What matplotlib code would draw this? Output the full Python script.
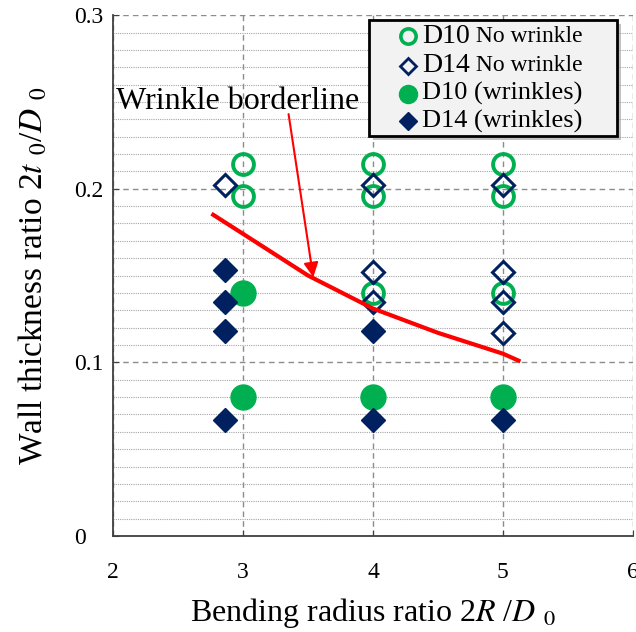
import matplotlib
matplotlib.use("Agg")
import matplotlib.pyplot as plt
from matplotlib.lines import Line2D
from matplotlib.patches import Rectangle
from matplotlib.offsetbox import AnchoredOffsetbox, VPacker, HPacker, TextArea, DrawingArea
import numpy as np

plt.rcParams['font.family'] = ['Liberation Serif', 'DejaVu Serif']
plt.rcParams['mathtext.fontset'] = 'stix'

GREEN = '#00b050'
NAVY = '#002060'

# D10 no wrinkle (open circles)
d10_ok_x = [3, 3, 4, 4, 4, 5, 5, 5]
d10_ok_y = [0.214, 0.196, 0.214, 0.196, 0.140, 0.214, 0.196, 0.140]
# D14 no wrinkle (open diamonds)
d14_ok_x = [2.86, 4, 4, 4, 5, 5, 5, 5]
d14_ok_y = [0.202, 0.202, 0.152, 0.135, 0.202, 0.152, 0.135, 0.117]
# D10 wrinkles (filled circles)
d10_wr_x = [3, 3, 4, 5]
d10_wr_y = [0.140, 0.080, 0.080, 0.080]
# D14 wrinkles (filled diamonds)
d14_wr_x = [2.86, 2.86, 2.86, 2.86, 4, 4, 5]
d14_wr_y = [0.153, 0.135, 0.118, 0.067, 0.118, 0.067, 0.067]

# borderline
border_x = [2.77, 3.0, 3.5, 4.0, 4.5, 5.0, 5.12]
border_y = [0.185, 0.174, 0.150, 0.131, 0.117, 0.105, 0.101]

fig = plt.figure(figsize=(6.36, 6.32), dpi=100)
ax = fig.add_axes([0.178, 0.152, 0.817, 0.824])

ax.set_xlim(2, 6)
ax.set_ylim(0, 0.3)
ax.set_xticks([2, 3, 4, 5, 6])
ax.set_yticks([0, 0.1, 0.2, 0.3])
ax.set_yticklabels(['0', '0.1', '0.2', '0.3'])
ax.set_yticks(np.arange(0.01, 0.3, 0.01), minor=True)
ax.tick_params(axis='both', which='major', direction='in', length=4,
               labelsize=17, colors='#404040', labelcolor='black')
ax.tick_params(axis='x', which='major', pad=19)
ax.tick_params(axis='y', which='major', pad=28)
for lab in ax.get_yticklabels():
    lab.set_horizontalalignment('left')
ax.tick_params(axis='y', which='minor', length=0)

ax.grid(True, which='major', linestyle=(0, (4, 3)), color='#8c8c8c', lw=1.0)
ax.grid(True, which='minor', axis='y', linestyle=(0, (1, 1)), color='#a6a6a6', lw=0.8)
ax.set_axisbelow(True)

ax.spines['top'].set_visible(False)
ax.spines['right'].set_visible(False)
for s in ['left', 'bottom']:
    ax.spines[s].set_color('#404040')
    ax.spines[s].set_linewidth(1.3)

ax.plot(d10_ok_x, d10_ok_y, 'o', ms=15, mfc='none', mec=GREEN, mew=2.8, ls='none', zorder=3)
ax.plot(d14_ok_x, d14_ok_y, 'D', ms=11, mfc='none', mec=NAVY, mew=2.2, ls='none', zorder=4)
ax.plot(d10_wr_x, d10_wr_y, 'o', ms=18, mfc=GREEN, mec=GREEN, ls='none', zorder=3)
ax.plot(d14_wr_x, d14_wr_y, 'D', ms=12, mfc=NAVY, mec=NAVY, ls='none', zorder=4)

ax.plot(border_x, border_y, color='#ff0000', lw=3, zorder=5)

ax.annotate('', xy=(3.54, 0.149), xytext=(3.35, 0.243),
            arrowprops=dict(arrowstyle='-|>', color='#ff0000', lw=1.5,
                            mutation_scale=22, shrinkA=0, shrinkB=0), zorder=6)
ax.text(2.02, 0.250, 'Wrinkle borderline', fontsize=23, ha='left', va='center', zorder=6)

ax.set_xlabel('Bending radius ratio 2$R$ /$D$ $_0$', fontsize=23, labelpad=9)
ax.set_ylabel('Wall thickness ratio 2$t$ $_0$/$D$ $_0$', fontsize=24, labelpad=18)

# legend built by hand: the "No wrinkle" part is set smaller than "D10"
entries = [
    ('o', 11, 'none', GREEN, 2.6, 'D10', 20, ' No wrinkle'),
    ('D', 8, 'none', NAVY, 2.0, 'D14', 20, ' No wrinkle'),
    ('o', 13, GREEN, GREEN, 1, 'D10 (wrinkles)', 19, ''),
    ('D', 9, NAVY, NAVY, 1, 'D14 (wrinkles)', 19, ''),
]
rows = []
for marker, ms, fc, ec, mew, main, size, sub in entries:
    da = DrawingArea(20, 16, 0, 0)
    da.add_artist(Line2D([10], [8], marker=marker, ms=ms, mfc=fc, mec=ec, mew=mew, ls='none'))
    parts = [da, TextArea(main, textprops=dict(size=size))]
    if sub:
        parts.append(TextArea(sub, textprops=dict(size=17)))
    rows.append(HPacker(children=parts, align='center', pad=0, sep=0))
col = VPacker(children=rows, align='left', pad=0, sep=3)
box = HPacker(children=[DrawingArea(16, 1), col, DrawingArea(22, 1)], align='center', pad=0, sep=0)
anch = AnchoredOffsetbox(loc='upper right', child=box, pad=0.25, borderpad=0,
                         frameon=True, bbox_to_anchor=(0.969, 0.99),
                         bbox_transform=ax.transAxes)
anch.patch.set_boxstyle('square', pad=0)
anch.patch.set_edgecolor('black')
anch.patch.set_linewidth(2)
anch.patch.set_facecolor('#f2f2f2')
anch.set_zorder(10)
ax.add_artist(anch)

fig.canvas.draw()
bb = anch.get_window_extent(fig.canvas.get_renderer())
shadow = Rectangle((bb.x0 + 4, bb.y0 - 4), bb.width, bb.height, transform=None,
                   facecolor='#9a9a9a', edgecolor='none', alpha=0.6, zorder=9, clip_on=False)
ax.add_artist(shadow)

fig.savefig('out.png', dpi=100)
